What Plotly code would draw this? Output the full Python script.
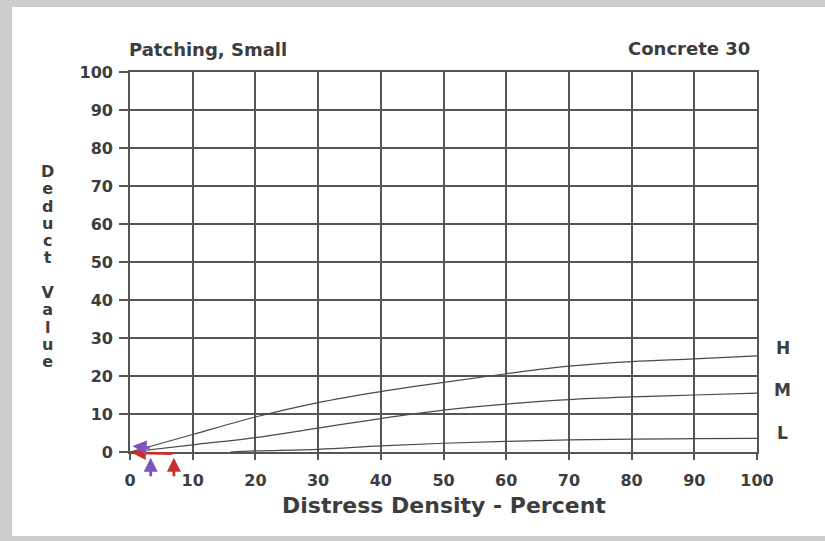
import plotly.graph_objects as go

# ---- data ----
x_hm = [0, 10, 20, 30, 40, 50, 60, 70, 80, 90, 100]
y_high = [0, 4.6, 9.2, 13.0, 15.9, 18.3, 20.6, 22.6, 23.8, 24.5, 25.3]
y_med = [0, 1.9, 3.8, 6.3, 8.8, 11.0, 12.6, 13.8, 14.5, 15.0, 15.5]
x_low = [16, 20, 30, 40, 50, 60, 70, 80, 90, 100]
y_low = [0, 0.3, 0.7, 1.6, 2.3, 2.8, 3.2, 3.4, 3.5, 3.6]

severity_labels = ["H", "M", "L"]
severity_label_y = [27.4, 16.3, 5.0]

x_ticks = list(range(0, 101, 10))
y_ticks = list(range(0, 101, 10))

title_left = "Patching, Small"
title_right = "Concrete 30"
x_title = "Distress Density - Percent"
y_title = "Deduct Value"

FONT = "DejaVu Sans"
TXT = "#3d3d3d"
GRID = "#555555"
CURVE = "#4a4a4a"
PURPLE = "#7b55c2"
RED = "#c8302c"
FRAME = "#cdcdcd"

fig = go.Figure()
for xs, ys in [(x_hm, y_high), (x_hm, y_med), (x_low, y_low)]:
    fig.add_trace(go.Scatter(x=xs, y=ys, mode="lines",
                             line=dict(color=CURVE, width=1.2, shape="spline", smoothing=1.0),
                             showlegend=False, hoverinfo="skip", cliponaxis=False))

axis_common = dict(
    showgrid=True, gridcolor=GRID, gridwidth=1.6,
    showline=True, linecolor=GRID, linewidth=1.6, mirror=True,
    zeroline=False, ticks="outside", tickcolor=GRID, tickwidth=1.6,
    tickfont=dict(family=FONT, size=16, color=TXT, weight="bold"),
    fixedrange=True,
)
fig.update_xaxes(range=[0, 100], tickvals=x_ticks, ticklen=6, ticklabelstandoff=7, **axis_common)
fig.update_yaxes(range=[0, 100], tickvals=y_ticks, ticklen=9, ticklabelstandoff=3, **axis_common)

ann = []
ann.append(dict(text=f"<b>{title_left}</b>", xref="paper", yref="paper", x=-0.004, y=1.058,
                xanchor="left", yanchor="middle", showarrow=False,
                font=dict(family=FONT, size=18, color=TXT)))
ann.append(dict(text=f"<b>{title_right}</b>", xref="paper", yref="paper", x=0.992, y=1.061,
                xanchor="right", yanchor="middle", showarrow=False,
                font=dict(family=FONT, size=18, color=TXT)))
ann.append(dict(text=f"<b>{x_title}</b>", xref="paper", yref="paper", x=0.5, y=-0.142,
                xanchor="center", yanchor="middle", showarrow=False,
                font=dict(family=FONT, size=22, color=TXT)))
letters = "<br>".join("<span style='font-size:16px'>%s</span>" % c if c != " " else "" for c in y_title)
ann.append(dict(text=f"<b>{letters}</b>", xref="paper", yref="paper", x=-0.1308, y=0.487,
                xanchor="center", yanchor="middle", showarrow=False, align="center",
                font=dict(family=FONT, size=13.3, color=TXT)))
for lab, ly in zip(severity_labels, severity_label_y):
    ann.append(dict(text=f"<b>{lab}</b>", xref="paper", yref="y", x=1.041, y=ly,
                    xanchor="center", yanchor="middle", showarrow=False,
                    font=dict(family=FONT, size=17, color=TXT)))

# marker arrows near the origin: (tip x, tip y [paper], tail x, tail pixel offset, colour)
arrows = [
    (0.3, -0.002, 7.0, 1, RED),
    (7.0, -0.015, 7.0, 20, RED),
    (0.4, 0.016, 3.4, 2, PURPLE),
    (3.3, -0.015, 3.3, 20, PURPLE),
]
for x, y, ax, ay, col in arrows:
    ann.append(dict(x=x, y=y, ax=ax, ay=ay, xref="x", yref="paper", axref="x", ayref="pixel",
                    text="", showarrow=True, arrowhead=2, arrowsize=1.0, arrowwidth=2.8,
                    arrowcolor=col))

# scanned-page frame (grey shadow on top, left and bottom edges)
frame = [
    dict(x0=-0.30, x1=1.30, y0=1.171, y1=1.30),    # top band
    dict(x0=-0.30, x1=-0.1882, y0=-0.30, y1=1.30),  # left band
    dict(x0=-0.30, x1=1.30, y0=-0.30, y1=-0.2211),  # bottom band
]
shapes = [dict(type="rect", xref="paper", yref="paper", layer="below",
               fillcolor=FRAME, line=dict(width=0), **f) for f in frame]

fig.update_layout(
    width=825, height=541,
    margin=dict(l=130, r=68, t=72, b=89),
    paper_bgcolor="white", plot_bgcolor="white",
    annotations=ann,
    shapes=shapes,
    showlegend=False,
)
fig.write_html("out.html")
